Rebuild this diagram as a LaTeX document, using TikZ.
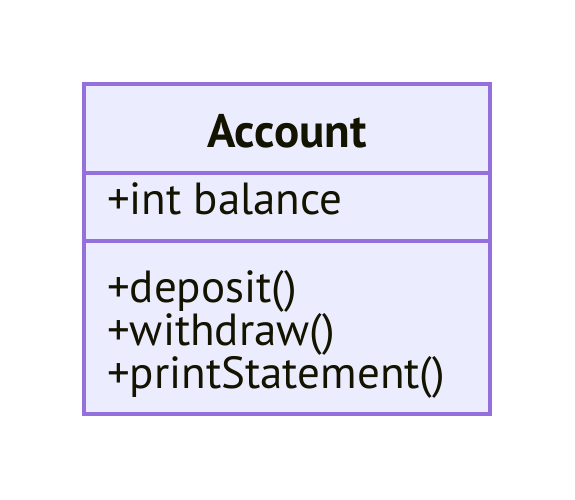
\documentclass[tikz,border=0pt]{standalone}
\usepackage{fontspec}
\setmainfont{PT Sans}
\usetikzlibrary{positioning}
\definecolor{classfill}{HTML}{ECECFF}
\definecolor{classline}{HTML}{9370DB}
\definecolor{classtext}{HTML}{131300}
\begin{document}
\begin{tikzpicture}[x=1pt,y=-1pt,
 classbox/.style={draw=classline,fill=classfill,line width=3.2pt,inner sep=0pt},
 divider/.style={draw=classline,line width=3.2pt},
 member/.style={anchor=base west,inner sep=0pt,text=classtext,font=\fontsize{45}{54}\selectfont}]
\useasboundingbox (0,0) rectangle (575,500);
\node[classbox,minimum width=406pt,minimum height=330pt] (account) at (287,249) {};
\node[member,anchor=base,font=\bfseries\fontsize{47}{56}\selectfont] (name) at (287,147) {Account};
\draw[divider] (account.west |- 0,173) -- (account.east |- 0,173);
\draw[divider] (account.west |- 0,241) -- (account.east |- 0,241);
\node[member] (balance) at (107,214) {+int balance};
\node[member] (deposit) at (107,302) {+deposit()};
\node[member] (withdraw) at (107,345) {+withdraw()};
\node[member] (print) at (107,388) {+printStatement()};
\end{tikzpicture}
\end{document}
